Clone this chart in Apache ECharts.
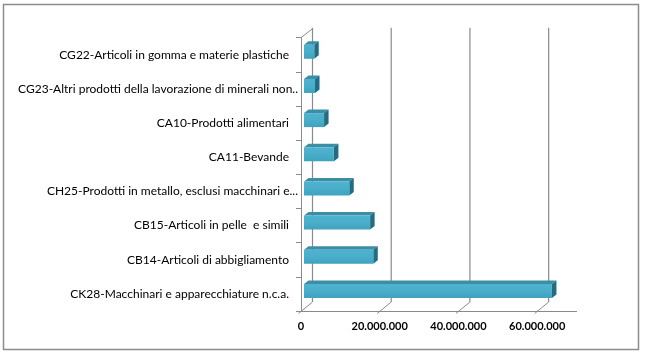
<!DOCTYPE html>
<html>
<head>
<meta charset="utf-8">
<script src="https://cdn.jsdelivr.net/npm/echarts@6/dist/echarts.min.js"></script>
<style>html,body{margin:0;padding:0;background:#fff}#c{width:651px;height:355px}</style>
</head>
<body>
<div id="c"></div>
<script>
const categories = [
  "CG22-Articoli in gomma e materie plastiche",
  "CG23-Altri prodotti della lavorazione di minerali non..",
  "CA10-Prodotti alimentari",
  "CA11-Bevande",
  "CH25-Prodotti in metallo, esclusi macchinari e...",
  "CB15-Articoli in pelle  e simili",
  "CB14-Articoli di abbigliamento",
  "CK28-Macchinari e apparecchiature n.c.a."
];
const values = [2600000, 2800000, 5100000, 7600000, 11500000, 16800000, 17600000, 63000000];
const ticks = [0, 20000000, 40000000, 60000000];

const chart = echarts.init(document.getElementById('c'), null, {renderer: 'canvas'});
const FONT = 'Lato, "Open Sans", sans-serif';
const DX = 11.5, DY = 9;         // wall depth offset
const BX = 3, BY = 3;            // bar front-face offset
const BDX = 4.5, BDY = 3.5;      // bar depth
const lineCol = '#8a8a8a';

function fmt(v){ return String(v).replace(/\B(?=(\d{3})+(?!\d))/g, '.'); }
function catFmt(s){ return /\.\.$/.test(s) ? '{t|' + s + '}' : '{n|' + s + '}'; }

chart.setOption({
  animation: false,
  graphic: [{
    type: 'rect', shape: {x: 3.5, y: 4.5, width: 635, height: 345},
    style: {fill: 'none', stroke: '#8c8c8c', lineWidth: 1.5}, z: -10
  }],
  grid: {left: 301, top: 37.7, width: 275.5, height: 273.3, containLabel: false},
  xAxis: {
    type: 'value', min: 0, max: 70000000, interval: 20000000,
    axisLine: {show: true, lineStyle: {color: lineCol, width: 1}},
    axisTick: {show: false},
    splitLine: {show: false},
    axisLabel: {show: true, showMaxLabel: false, margin: 10, fontFamily: FONT, fontSize: 11, fontWeight: 'bold', color: '#000', formatter: fmt}
  },
  yAxis: {
    type: 'category', data: categories, inverse: true,
    axisLine: {show: true, lineStyle: {color: lineCol, width: 1}},
    axisTick: {show: true, length: 5, lineStyle: {color: lineCol}},
    splitLine: {show: false},
    axisLabel: {interval: 0, margin: 3, formatter: catFmt,
      rich: {
        n: {fontFamily: FONT, fontSize: 12, color: '#000', padding: [0, 9, 0, 0]},
        t: {fontFamily: FONT, fontSize: 12, color: '#000'}
      }}
  },
  series: [
    {
      type: 'custom', name: 'frame', clip: false, z: 1, silent: true,
      data: ticks.map(t => [t, 0]),
      encode: {x: 0, y: 1},
      renderItem: function (params, api) {
        const cs = params.coordSys;
        const x = api.coord([api.value(0), 0])[0];
        const yb = cs.y + cs.height, yt = cs.y;
        const children = [
          {type: 'line', shape: {x1: x - 2.5, y1: yb + 2.5, x2: x + DX, y2: yb - DY}, style: {stroke: lineCol, lineWidth: 1}},
          {type: 'line', shape: {x1: x + DX, y1: yb - DY, x2: x + DX, y2: yt - DY - 1}, style: {stroke: lineCol, lineWidth: 1.2}}
        ];
        if (api.value(0) === 0) {
          children.push({type: 'line', shape: {x1: x, y1: yt, x2: x + DX, y2: yt - DY}, style: {stroke: lineCol, lineWidth: 1}});
        }
        return {type: 'group', children: children};
      }
    },
    {
      type: 'custom', name: 'values', clip: false, z: 2,
      data: values.map((v, i) => [v, i]),
      encode: {x: 0, y: 1},
      renderItem: function (params, api) {
        const v = api.value(0), i = api.value(1);
        const p0 = api.coord([0, i]);
        const p1 = api.coord([v, i]);
        const band = api.size([0, 1])[1];
        const h = band * 0.41;
        const xl = p0[0] + BX, xr = p1[0] + BX;
        const ytop = p0[1] - BY - h / 2, ybot = p0[1] - BY + h / 2;
        return {type: 'group', children: [
          {type: 'polygon', shape: {points: [[xl, ytop], [xr, ytop], [xr + BDX, ytop - BDY], [xl + BDX, ytop - BDY]]},
            style: {fill: '#3a8ea6'}},
          {type: 'polygon', shape: {points: [[xr, ytop], [xr + BDX, ytop - BDY], [xr + BDX, ybot - BDY], [xr, ybot]]},
            style: {fill: '#286a7e'}},
          {type: 'rect', shape: {x: xl, y: ytop, width: xr - xl, height: ybot - ytop},
            style: {fill: new echarts.graphic.LinearGradient(0, 0, 0, 1, [
              {offset: 0, color: '#4fb3cf'}, {offset: 0.5, color: '#4aaecb'}, {offset: 1, color: '#3fa2bf'}])}}
        ]};
      }
    }
  ]
});
</script>
</body>
</html>
